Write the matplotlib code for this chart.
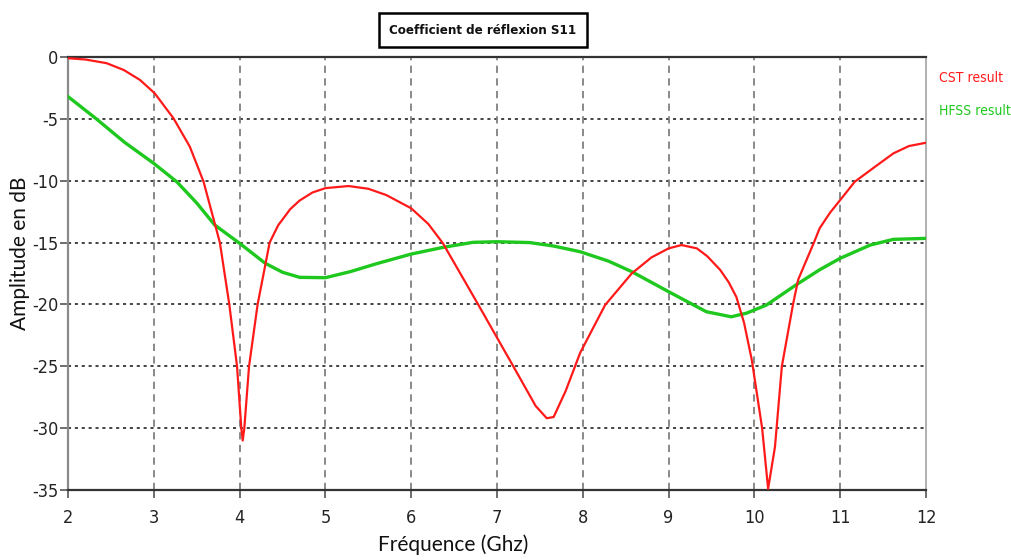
import numpy as np
import matplotlib
matplotlib.use("Agg")
import matplotlib.pyplot as plt
from matplotlib import font_manager

# ---- data ----
cst_f = [2.0, 2.2, 2.45, 2.65, 2.84, 3.01, 3.23, 3.42, 3.58, 3.77, 3.88, 3.97, 4.02, 4.036,
         4.055, 4.11, 4.21, 4.35, 4.45, 4.59, 4.7, 4.85, 5.0, 5.27, 5.5, 5.71, 6.0, 6.2, 6.37,
         6.78, 7.19, 7.45, 7.58, 7.66, 7.8, 7.97, 8.26, 8.57, 8.8, 9.0, 9.15, 9.33, 9.45,
         9.60, 9.7, 9.79, 9.88, 9.97, 10.09, 10.16, 10.24, 10.32, 10.45, 10.51, 10.69, 10.76,
         10.88, 11.0, 11.17, 11.4, 11.62, 11.8, 12.0]
cst_db = [-0.1, -0.2, -0.5, -1.05, -1.86, -2.93, -4.96, -7.25, -10.08, -15.0, -20.0, -25.0, -30.0, -31.0,
          -30.0, -25.0, -20.0, -15.0, -13.6, -12.3, -11.6, -10.95, -10.6, -10.43, -10.65, -11.16, -12.23, -13.5, -15.06,
          -20.0, -25.0, -28.2, -29.2, -29.1, -27.0, -23.9, -20.05, -17.5, -16.2, -15.47, -15.2, -15.47, -16.1,
          -17.2, -18.2, -19.4, -21.5, -24.5, -30.0, -34.9, -31.5, -25.0, -20.0, -18.0, -15.06, -13.85,
          -12.6, -11.56, -10.08, -8.9, -7.79, -7.2, -6.93]

hfss_f = [2.0, 2.33, 2.66, 3.0, 3.27, 3.5, 3.71, 4.0, 4.30, 4.50, 4.70, 5.0, 5.29,
          5.6, 6.0, 6.37, 6.72, 7.0, 7.38, 7.66, 7.97, 8.3, 8.57, 9.0, 9.44, 9.73,
          9.91, 10.14, 10.49, 10.76, 11.0, 11.35, 11.62, 12.0]
hfss_db = [-3.2, -5.0, -6.9, -8.6, -10.1, -11.8, -13.58, -15.06, -16.68, -17.4, -17.81, -17.84, -17.35,
           -16.7, -15.93, -15.39, -14.98, -14.93, -15.0, -15.28, -15.74, -16.5, -17.35, -18.97, -20.59, -21.0,
           -20.7, -20.05, -18.4, -17.2, -16.27, -15.2, -14.74, -14.66]

x_ticks = list(range(2, 13))
y_ticks = list(range(-35, 1, 5))

# ---- fonts: a condensed face if one is installed ----
fl = font_manager.fontManager.ttflist
HAS_COND = any(f.name == "DejaVu Sans" and "Condensed" in f.fname for f in fl)
NARROW = dict(family=["DejaVu Sans"], stretch="condensed") if HAS_COND else dict(family=["Roboto", "DejaVu Sans"])
LABEL = ["Lato", "DejaVu Sans"]

C_RED = "#ff1a1a"
C_GREEN = "#1ec81e"

fig = plt.figure(figsize=(10.11, 5.60), dpi=100)
ax = fig.add_axes([68 / 1011, 1 - 490 / 560, 858 / 1011, 433 / 560])

ax.plot(cst_f, cst_db, color=C_RED, lw=1.6, zorder=4)
ax.plot(hfss_f, hfss_db, color=C_GREEN, lw=2.4, zorder=3)

ax.set_xlim(2, 12)
ax.set_ylim(-35, 0)
ax.set_xticks(x_ticks)
ax.set_yticks(y_ticks)
ax.set_xticklabels([str(t) for t in x_ticks], fontsize=13, color="#222222", **NARROW)
ax.set_yticklabels([str(t) for t in y_ticks], fontsize=13, color="#222222", **NARROW)
ax.tick_params(axis="both", length=5.5, width=1.2, color="#555555")
ax.tick_params(axis="x", pad=8)
ax.tick_params(axis="y", pad=1.5)

# grid: horizontal black dotted, vertical grey dashed
for y in y_ticks[1:-1]:
    ax.axhline(y, color="#111111", lw=1.1, ls=(0, (2, 2.5)), zorder=1)
for x in x_ticks[1:-1]:
    ax.axvline(x, color="#808080", lw=1.3, ls=(0, (4, 3)), zorder=1)

ax.spines["top"].set_color("#333333"); ax.spines["top"].set_linewidth(1.6)
ax.spines["bottom"].set_color("#333333"); ax.spines["bottom"].set_linewidth(1.6)
ax.spines["left"].set_color("#8a8a8a"); ax.spines["left"].set_linewidth(1.6)
ax.spines["right"].set_color("#b0b0b0"); ax.spines["right"].set_linewidth(1.4)

ax.set_xlabel("Fréquence (Ghz)", family=LABEL, fontsize=15, color="#111111")
ax.xaxis.set_label_coords(0.449, -0.103)
ax.set_ylabel("Amplitude en dB", family=LABEL, fontsize=15, color="#111111")
ax.yaxis.set_label_coords(-0.044, 0.547)

# boxed title
fig.text(483 / 1011, 1 - 30 / 560, "Coefficient de réflexion S11",
         fontsize=9.5, fontweight="bold", color="#111111",
         ha="center", va="center",
         bbox=dict(boxstyle="square,pad=0.8", fc="white", ec="black", lw=1.8), **NARROW)

# series labels to the right of the plot
fig.text(939 / 1011, 1 - 78 / 560, "CST result", fontsize=10,
         color=C_RED, ha="left", va="center", **NARROW)
fig.text(939 / 1011, 1 - 111 / 560, "HFSS result", fontsize=10,
         color=C_GREEN, ha="left", va="center", **NARROW)

fig.savefig("out.png", dpi=100, facecolor="white")
